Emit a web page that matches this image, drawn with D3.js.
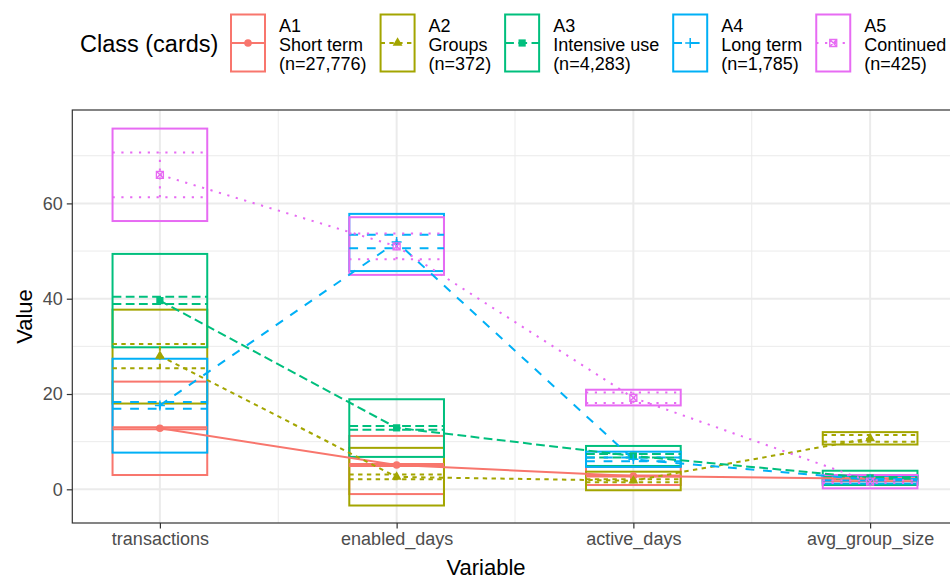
<!DOCTYPE html>
<html><head><meta charset="utf-8">
<script src="https://cdn.jsdelivr.net/npm/d3@7"></script>
<style>
body{margin:0;background:#fff;}
text{font-family:"Liberation Sans",Arial,Helvetica,sans-serif;}
</style></head>
<body><svg id="chart" width="950" height="580"></svg>
<script>
// ---- data ----
const variables = ["transactions","enabled_days","active_days","avg_group_size"];
const classes = ["A1","A2","A3","A4","A5"];
const classNames = ["Short term","Groups","Intensive use","Long term","Continued"];
const classCounts = ["(n=27,776)","(n=372)","(n=4,283)","(n=1,785)","(n=425)"];
// per class (rows A1..A5), per variable (columns)
const means = [
  [12.8, 5.1, 2.8, 2.2],
  [28.0, 2.6, 1.8, 10.7],
  [39.6, 12.9, 7.0, 2.4],
  [17.6, 51.9, 6.3, 2.0],
  [66.0, 51.0, 19.2, 1.6]
];
const boxLow = [
  [3.0, -1.0, 0.9, 1.7],
  [18.0, -3.4, -0.2, 9.4],
  [29.8, 6.8, 4.9, 0.9],
  [7.7, 45.8, 4.7, 1.2],
  [56.3, 45.0, 17.6, 0.2]
];
const boxHigh = [
  [22.6, 11.2, 4.7, 2.7],
  [37.7, 8.7, 3.7, 12.0],
  [49.4, 18.9, 9.1, 3.9],
  [27.4, 57.8, 7.9, 2.8],
  [75.7, 57.1, 20.9, 3.0]
];
const ciLow = [
  [12.6, 4.9, 2.7, 2.1],
  [25.4, 2.1, 1.5, 10.0],
  [38.9, 12.5, 6.7, 2.2],
  [16.9, 50.6, 5.9, 1.85],
  [61.3, 48.3, 18.1, 1.3]
];
const ciHigh = [
  [13.0, 5.3, 2.9, 2.3],
  [30.5, 3.1, 2.1, 11.4],
  [40.4, 13.3, 7.4, 2.6],
  [18.3, 53.4, 6.7, 2.15],
  [70.7, 53.7, 20.3, 1.9]
];
const yTicks = [0, 20, 40, 60];
const yMinor = [10, 30, 50, 70];

// ---- styles ----
const colors = ["#F8766D","#A3A500","#00BF7D","#00B0F6","#E76BF3"];
const dashes = [null, "4.4,4.4", "8.8,4.4", "8.8,8.8", "2.2,6.6"];
const shapes = ["circle","triangle","square","plus","squarex"];
const LW = 2;

const svg = d3.select("#chart");
svg.append("rect").attr("width",950).attr("height",580).attr("fill","#fff");

const panel = {left:72.3, right:957.7, top:110, bottom:523};
const x = d3.scaleLinear().domain([0.63, 4.37]).range([panel.left, panel.right]);
const y = d3.scaleLinear().domain([-7.07, 79.6]).range([panel.bottom, panel.top]);
const half = 0.2;

svg.append("clipPath").attr("id","clip").append("rect")
  .attr("x",panel.left).attr("y",panel.top)
  .attr("width",panel.right-panel.left).attr("height",panel.bottom-panel.top);

const g = svg.append("g");
// grid
g.selectAll(".ymin").data(yMinor).join("line")
  .attr("x1",panel.left).attr("x2",panel.right)
  .attr("y1",d=>y(d)).attr("y2",d=>y(d))
  .attr("stroke","#EBEBEB").attr("stroke-width",1);
g.selectAll(".xmin").data([1.5,2.5,3.5]).join("line")
  .attr("y1",panel.top).attr("y2",panel.bottom)
  .attr("x1",d=>x(d)).attr("x2",d=>x(d))
  .attr("stroke","#EBEBEB").attr("stroke-width",1);
g.selectAll(".ymaj").data(yTicks).join("line")
  .attr("x1",panel.left).attr("x2",panel.right)
  .attr("y1",d=>y(d)).attr("y2",d=>y(d))
  .attr("stroke","#EBEBEB").attr("stroke-width",2);
g.selectAll(".xmaj").data(variables).join("line")
  .attr("y1",panel.top).attr("y2",panel.bottom)
  .attr("x1",(d,i)=>x(i+1)).attr("x2",(d,i)=>x(i+1))
  .attr("stroke","#EBEBEB").attr("stroke-width",2);

const plot = svg.append("g").attr("clip-path","url(#clip)");

// boxes
classes.forEach((c,ci)=>{
  variables.forEach((v,vi)=>{
    plot.append("rect")
      .attr("x", x(vi+1-half)).attr("width", x(vi+1+half)-x(vi+1-half))
      .attr("y", y(boxHigh[ci][vi])).attr("height", y(boxLow[ci][vi])-y(boxHigh[ci][vi]))
      .attr("fill","none").attr("stroke",colors[ci]).attr("stroke-width",LW);
  });
});
// error bars
classes.forEach((c,ci)=>{
  variables.forEach((v,vi)=>{
    const eg = plot.append("g").attr("stroke",colors[ci]).attr("stroke-width",LW)
      .attr("stroke-dasharray",dashes[ci]).attr("fill","none");
    [ciLow[ci][vi], ciHigh[ci][vi]].forEach(val=>{
      eg.append("line").attr("x1",x(vi+1-half)).attr("x2",x(vi+1+half))
        .attr("y1",y(val)).attr("y2",y(val));
    });
    eg.append("line").attr("x1",x(vi+1)).attr("x2",x(vi+1))
      .attr("y1",y(ciLow[ci][vi])).attr("y2",y(ciHigh[ci][vi]));
  });
});
// mean lines
const line = d3.line().x((d,i)=>x(i+1)).y(d=>y(d));
classes.forEach((c,ci)=>{
  plot.append("path").datum(means[ci]).attr("d",line)
    .attr("fill","none").attr("stroke",colors[ci]).attr("stroke-width",LW)
    .attr("stroke-dasharray",dashes[ci]);
});

function drawShape(sel, shape, color, cx, cy){
  if(shape==="circle"){
    sel.append("circle").attr("cx",cx).attr("cy",cy).attr("r",3.8).attr("fill",color);
  } else if(shape==="triangle"){
    sel.append("path").attr("d",d3.symbol(d3.symbolTriangle,42)())
      .attr("transform",`translate(${cx},${cy})`).attr("fill",color);
  } else if(shape==="square"){
    sel.append("rect").attr("x",cx-3.6).attr("y",cy-3.6).attr("width",7.2).attr("height",7.2).attr("fill",color);
  } else if(shape==="plus"){
    sel.append("path").attr("d",`M${cx-5},${cy}H${cx+5}M${cx},${cy-5}V${cy+5}`)
      .attr("stroke",color).attr("stroke-width",1.5).attr("fill","none");
  } else if(shape==="squarex"){
    sel.append("path").attr("d",`M${cx-3.5},${cy-3.5}h7v7h-7zM${cx-3.5},${cy-3.5}l7,7M${cx+3.5},${cy-3.5}l-7,7`)
      .attr("stroke",color).attr("stroke-width",1.3).attr("fill","none");
  }
}
classes.forEach((c,ci)=>{
  means[ci].forEach((m,vi)=>drawShape(plot, shapes[ci], colors[ci], x(vi+1), y(m)));
});

// panel border
svg.append("rect").attr("x",panel.left).attr("y",panel.top)
  .attr("width",panel.right-panel.left).attr("height",panel.bottom-panel.top)
  .attr("fill","none").attr("stroke","#333333").attr("stroke-width",1.2);

// axes
const yAxis = d3.axisLeft(y).tickValues(yTicks).tickSize(5.5).tickPadding(4);
const ya = svg.append("g").attr("transform",`translate(${panel.left},0)`).call(yAxis);
ya.select(".domain").remove();
ya.selectAll("line").attr("stroke","#333333").attr("stroke-width",1.2);
ya.selectAll("text").attr("fill","#4D4D4D").style("font-size","18px")
  .style("font-family","'Liberation Sans',Arial,sans-serif");

const xAxis = d3.axisBottom(x).tickValues([1,2,3,4]).tickFormat((d)=>variables[d-1]).tickSize(5.5).tickPadding(4);
const xa = svg.append("g").attr("transform",`translate(0,${panel.bottom})`).call(xAxis);
xa.select(".domain").remove();
xa.selectAll("line").attr("stroke","#333333").attr("stroke-width",1.2);
xa.selectAll("text").attr("fill","#4D4D4D").style("font-size","18px")
  .style("font-family","'Liberation Sans',Arial,sans-serif");

svg.append("text").attr("x",486).attr("y",575)
  .attr("text-anchor","middle").style("font-size","22px").attr("fill","#000").text("Variable");
svg.append("text").attr("transform",`translate(32,${(panel.top+panel.bottom)/2}) rotate(-90)`)
  .attr("text-anchor","middle").style("font-size","22px").attr("fill","#000").text("Value");

// legend
const lg = svg.append("g");
lg.append("text").attr("x",80).attr("y",52).style("font-size","23.5px").text("Class (cards)");
let kx = 231;
classes.forEach((c,ci)=>{
  const kg = lg.append("g");
  kg.append("rect").attr("x",kx).attr("y",14.5).attr("width",34).attr("height",57)
    .attr("fill","none").attr("stroke",colors[ci]).attr("stroke-width",LW);
  kg.append("line").attr("x1",kx).attr("x2",kx+34).attr("y1",43).attr("y2",43)
    .attr("stroke",colors[ci]).attr("stroke-width",LW).attr("stroke-dasharray",dashes[ci]);
  drawShape(kg, shapes[ci], colors[ci], kx+17, 43);
  const tx = kx + 48;
  const t = kg.append("text").attr("x",tx).attr("y",31.5).style("font-size","18px").attr("fill","#000");
  [c, classNames[ci], classCounts[ci]].forEach((s,i)=>{
    t.append("tspan").attr("x",tx).attr("y",31.5 + i*19.3).text(s);
  });
  const w = t.node().getBBox().width;
  kx = tx + w + 14;
});
</script></body></html>
